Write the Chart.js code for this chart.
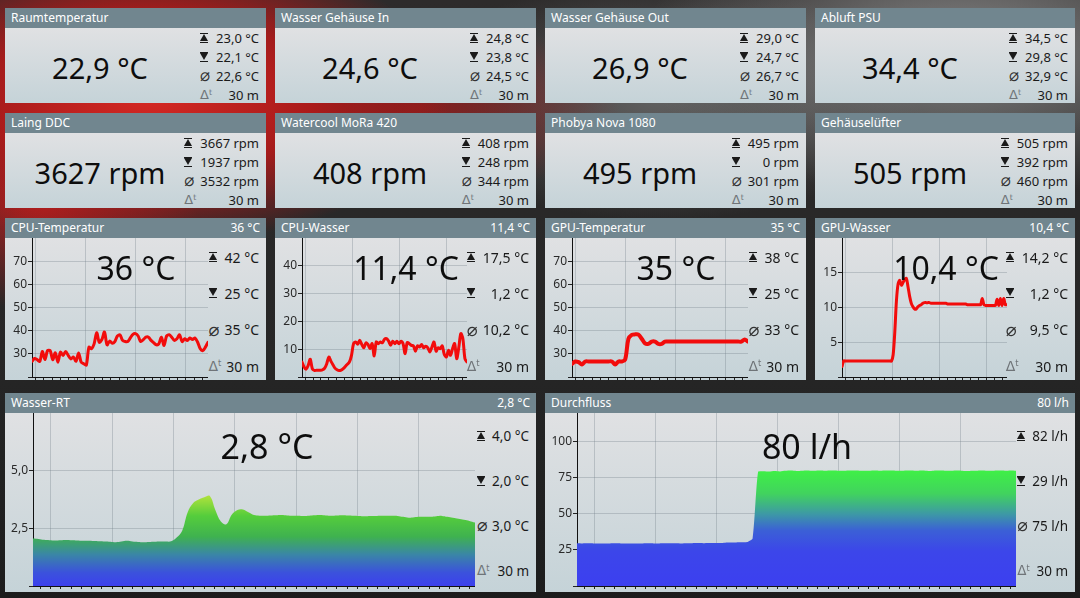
<!DOCTYPE html>
<html>
<head>
<meta charset="utf-8">
<script src="https://cdn.jsdelivr.net/npm/chart.js@4.4.1/dist/chart.umd.min.js"></script>
<style>
  html, body { margin: 0; padding: 0; }
  body {
    width: 1080px; height: 598px; overflow: hidden; position: relative;
    font-family: "Noto Sans", "DejaVu Sans", sans-serif;
    background:
      radial-gradient(ellipse 300px 150px at 150px 95px, rgba(215,40,35,1) 0%, rgba(185,25,25,0.85) 55%, rgba(120,15,15,0) 100%),
      radial-gradient(ellipse 160px 110px at 40px 200px, rgba(190,30,30,0.9) 0%, rgba(150,20,20,0) 100%),
      radial-gradient(ellipse 200px 90px at 420px 108px, rgba(160,25,25,0.8) 0%, rgba(150,20,20,0) 100%),
      radial-gradient(ellipse 320px 150px at 960px 50px, rgba(150,150,150,0.85) 0%, rgba(120,120,120,0) 100%),
      radial-gradient(ellipse 260px 120px at 660px 100px, rgba(115,115,115,0.75) 0%, rgba(110,110,110,0) 100%),
      linear-gradient(#2d2b2b, #262626 60%, #1c1c1c);
  }
  .panel { position: absolute; }
  .head {
    position: absolute; left: 0; right: 0; top: 0; height: 20px;
    background: #71868f; color: #fff; font-size: 12px; line-height: 20px;
    padding: 0 6px 0 6px; white-space: nowrap;
  }
  .head span { float: right; }
  .body {
    position: absolute; left: 0; right: 0; top: 20px; bottom: 0;
    background: linear-gradient(#e0e1e3, #c5d3d8);
  }
  .body canvas { position: absolute; left: 0; top: 0; }
  .big { position: absolute; transform: translate(-50%, -50%); white-space: nowrap; color: #0d0d0d; line-height: 1; }
  .stats {
    position: absolute; right: 7px; display: grid; grid-template-columns: 13px auto;
    column-gap: 3px; color: #1a1a1a; white-space: nowrap;
  }
  .stats > div { display: flex; align-items: center; }
  .stats .t { justify-content: flex-end; }
  .mx, .mn {
    position: relative; display: inline-block; width: 8px; height: 10px; box-sizing: border-box;
    border-top: 1.5px solid #1a1a1a; border-bottom: 1.5px solid #1a1a1a;
  }
  .mx::after, .mn::after { content: ""; position: absolute; left: 0; top: 0; border-left: 4px solid transparent; border-right: 4px solid transparent; }
  .mx::after { border-bottom: 7px solid #1a1a1a; }
  .mn::after { border-top: 7px solid #1a1a1a; }
  .av { color: #333; font-family: "DejaVu Sans", sans-serif; font-size: 1.3em; line-height: 1; }
  .dt { color: #6f7478; font-family: "DejaVu Sans", sans-serif; font-size: 1em; line-height: 1; }
  .dt sup { font-size: 0.6em; vertical-align: 0.55em; }
</style>
</head>
<body>
<script>
// obere Kacheln
const tileTitles = ['Raumtemperatur', 'Wasser Gehäuse In', 'Wasser Gehäuse Out', 'Abluft PSU',
                    'Laing DDC', 'Watercool MoRa 420', 'Phobya Nova 1080', 'Gehäuselüfter'];
const tileValues = ['22,9 °C', '24,6 °C', '26,9 °C', '34,4 °C', '3627 rpm', '408 rpm', '495 rpm', '505 rpm'];
const tileMax = ['23,0 °C', '24,8 °C', '29,0 °C', '34,5 °C', '3667 rpm', '408 rpm', '495 rpm', '505 rpm'];
const tileMin = ['22,1 °C', '23,8 °C', '24,7 °C', '29,8 °C', '1937 rpm', '248 rpm', '0 rpm', '392 rpm'];
const tileAvg = ['22,6 °C', '24,5 °C', '26,7 °C', '32,9 °C', '3532 rpm', '344 rpm', '301 rpm', '460 rpm'];
const timeSpan = '30 m';

// Diagramme
const chartTitles = ['CPU-Temperatur', 'CPU-Wasser', 'GPU-Temperatur', 'GPU-Wasser', 'Wasser-RT', 'Durchfluss'];
const chartValues = ['36 °C', '11,4 °C', '35 °C', '10,4 °C', '2,8 °C', '80 l/h'];
const chartMax = ['42 °C', '17,5 °C', '38 °C', '14,2 °C', '4,0 °C', '82 l/h'];
const chartMin = ['25 °C', '1,2 °C', '25 °C', '1,2 °C', '2,0 °C', '29 l/h'];
const chartAvg = ['35 °C', '10,2 °C', '33 °C', '9,5 °C', '3,0 °C', '75 l/h'];

const cpuTemp = [26.8,28,27.5,26.7,31,27.5,31.4,31.4,27.5,30.4,26.4,30.7,29.3,31,29.3,27.8,28.6,26.8,30.4,26.4,
  25.7,25.2,32.9,32.2,34.3,39.1,35,36.2,39.4,33.9,35.5,34.6,35.3,37.7,38.2,35.8,35.3,35.3,36.9,38.4,
  38.7,37.7,35.3,36.1,37.2,37.2,35.8,34.8,33.9,34.3,37.2,33.6,37.7,38.2,37.2,35.8,36.5,38.2,35.3,36.5,
  35.8,36.8,36.2,36.8,35,32.2,31.4,32.9,35];
const cpuWater = [5.4,3.6,2.8,4.2,6.4,3.0,2.4,2.4,2.4,2.4,2.6,3.2,4.8,7.2,5.7,4.4,3.2,2.6,2.3,2.5,
  3.0,3.8,4.6,5.4,7.8,12,12.6,11.8,13.2,11.7,10.5,12.3,11.7,10.2,12,7.6,12.6,12,12.6,12.3,
  13.6,13.8,12.9,11.4,12.9,12,12.9,12,12.9,12,8.4,12.4,12,11.4,11.2,9.3,11.2,10.8,11.7,10.5,
  11.1,10.5,9,10.8,12.6,9.3,10.5,10.2,11.2,8.1,7.2,9.6,7.8,10.2,12,6.6,10.5,15.6,13.8,6.6,5.4];
const gpuTemp = [25.7,26.7,26.4,25.4,26.7,26.7,26.7,26.7,26.7,26.7,26.7,26.7,26.7,25.4,26.7,26.7,27.5,36.5,38.2,38.4,
  38.3,36.5,34.5,34.3,35.3,35.3,34.3,34.3,35.3,35.3,35.3,35.3,35.3,35.3,35.3,35.3,35.3,35.3,35.3,35.3,
  35.3,35.3,35.3,35.3,35.3,35.3,35.3,35.3,35.3,35.3,35.3,35.3,36.2,35.3];
const gpuWater = [1.5,2.3,
  2.3,2.3,2.3,2.3,2.3,2.3,2.3,2.3,2.3,2.3,
  2.3,2.3,2.3,2.3,2.3,2.3,2.3,2.3,2.3,2.3,
  2.3,2.3,2.3,2.3,2.3,2.3,2.3,2.3,2.3,
  3.2,6.5,11,13.4,13.9,13.2,13.6,14.0,14.2,13.0,11.6,10.6,10.1,9.8,9.8,10.1,10.3,10.4,10.6,
  10.7,10.7,10.7,10.7,
  10.6,10.6,10.6,10.6,10.6,10.6,10.6,10.6,10.6,10.6,
  10.5,10.5,10.5,10.5,10.5,10.5,10.5,10.5,10.5,10.5,10.5,10.5,
  10.4,10.4,10.4,10.4,10.4,10.4,10.4,10.4,
  10.4,11.3,10.4,10.3,10.3,10.3,10.3,10.3,10.3,10.3,11.2,10.3,11.3,10.3,11.3,10.4,10.4];
const waterRT = [2.06,2.04,2.0,1.98,1.97,1.98,1.99,1.98,1.97,1.96,1.96,1.95,1.94,1.93,1.92,1.9,1.93,1.96,1.93,1.91,
  1.9,1.91,1.92,1.93,1.93,1.94,2.1,2.4,3.2,3.6,3.75,3.85,3.9,3.3,2.8,2.68,3.1,3.3,3.32,3.2,
  3.08,3.05,3.05,3.06,3.07,3.08,3.06,3.05,3.05,3.04,3.05,3.07,3.08,3.06,3.05,3.06,3.07,3.06,3.05,3.04,
  3.02,3.03,3.04,3.05,3.05,3.05,3.04,3.0,2.96,2.98,3.0,3.0,3.0,3.02,3.04,3.0,2.96,2.92,2.87,2.82,2.75];
const flow = [29.6,29.5,29.6,29.5,29.4,29.5,29.5,29.6,29.5,29.4,29.5,29.4,29.5,29.6,29.5,29.5,29.6,29.7,29.6,29.5,
  29.6,29.7,29.8,29.7,29.8,29.9,29.8,30.0,30.1,30.2,30.3,30.5,33,79.2,79.6,79.4,79.8,79.5,79.9,80.1,
  79.8,80.0,80.2,79.9,80.1,80.0,80.2,80.1,79.9,80.0,80.1,80.2,80.0,79.9,80.1,80.0,80.2,80.1,80.0,79.9,
  80.1,80.2,80.0,80.1,79.8,80.0,80.1,80.0,79.9,80.1,80.0,79.7,79.9,80.0,80.1,79.9,80.0,80.1,80.0,80.2,80.0];

const cpuTempTicks = [20, 30, 40, 50, 60, 70];
const cpuWaterTicks = [0, 10, 20, 30, 40];
const gpuTempTicks = [20, 30, 40, 50, 60, 70];
const gpuWaterTicks = [0, 5, 10, 15];
const rtTicks = [0, 2.5, 5];
const flowTicks = [0, 25, 50, 75, 100];
const axisMax = [80, 50, 80, 20, 7.5, 120];

const gridCol = 'rgba(105,120,130,0.3)';

function makePanel(x, y, w, h, title, value) {
  const p = document.createElement('div');
  p.className = 'panel';
  Object.assign(p.style, { left: x + 'px', top: y + 'px', width: w + 'px', height: h + 'px' });
  p.innerHTML = '<div class="head">' + title + (value ? '<span>' + value + '</span>' : '') + '</div><div class="body"></div>';
  document.body.appendChild(p);
  return p.querySelector('.body');
}

function addBig(body, text, cx, cy, size) {
  const d = document.createElement('div');
  d.className = 'big';
  Object.assign(d.style, { left: cx + 'px', top: cy + 'px', fontSize: size + 'px' });
  d.textContent = text;
  body.appendChild(d);
}

function addStats(body, vals, top, rowH, size, iconW) {
  const icons = ['<span class="mx"></span>', '<span class="mn"></span>', '<span class="av">⌀</span>', '<span class="dt">Δ<sup>t</sup></span>'];
  const s = document.createElement('div');
  s.className = 'stats';
  Object.assign(s.style, { top: top + 'px', gridAutoRows: rowH + 'px', fontSize: size + 'px' });
  if (iconW) s.style.gridTemplateColumns = iconW + 'px auto';
  s.innerHTML = vals.map((v, i) => '<div>' + icons[i] + '</div><div class="t">' + v + '</div>').join('');
  body.appendChild(s);
}

// Kacheln
const colX = [5, 275, 545, 815];
const colW = [261, 261, 261, 260];
tileTitles.forEach((t, i) => {
  const b = makePanel(colX[i % 4], [8, 113][Math.floor(i / 4)], colW[i % 4], 95, t);
  addBig(b, tileValues[i], 95, 39, 29);
  addStats(b, [tileMax[i], tileMin[i], tileAvg[i], timeSpan], 0, 19, 13);
});

// x-Achse: Hilfslinien alle 6 Ticks
function gridTicks(scale, start, step) {
  const span = scale.max - scale.min, minor = step / 6, t = [];
  let f = start;
  while (f - minor >= 0) f -= minor;
  for (; f <= 1.0001; f += minor) {
    const k = Math.round((f - start) / minor);
    t.push({ value: scale.min + f * span, major: ((k % 6) + 6) % 6 === 0 });
  }
  return t;
}

function areaFill(stops, values) {
  return (c) => {
    const { ctx, chartArea, scales } = c.chart;
    if (!chartArea) return 'transparent';
    const top = scales.y.getPixelForValue(Math.max(...values));
    const g = ctx.createLinearGradient(0, top, 0, chartArea.bottom);
    stops.forEach(([o, col]) => g.addColorStop(o, col));
    return g;
  };
}

function fmt(v, dec) {
  return dec ? v.toFixed(dec).replace('.', ',') : String(v);
}

function drawChart(body, cfg) {
  const cv = document.createElement('canvas');
  cv.width = cfg.cw; cv.height = cfg.ch;
  cv.style.width = cfg.cw + 'px'; cv.style.height = cfg.ch + 'px';
  body.insertBefore(cv, body.firstChild);
  const values = cfg.data;
  const ds = {
    data: values.map((v, i) => ({ x: i, y: v })),
    pointRadius: 0, tension: cfg.tension, borderJoinStyle: 'round', borderCapStyle: 'round'
  };
  if (cfg.stops) {
    Object.assign(ds, { fill: 'origin', borderWidth: 0, borderColor: 'rgba(0,0,0,0)', backgroundColor: areaFill(cfg.stops, values) });
  } else {
    Object.assign(ds, { fill: false, borderColor: '#f20c0c', borderWidth: cfg.lw });
  }
  new Chart(cv, {
    type: 'line',
    data: { datasets: [ds] },
    options: {
      responsive: false, animation: false, devicePixelRatio: 1, events: [],
      layout: { padding: 0 },
      plugins: { legend: { display: false }, tooltip: { enabled: false } },
      scales: {
        x: {
          type: 'linear', min: 0, max: values.length - 1,
          afterBuildTicks: s => { s.ticks = gridTicks(s, cfg.gStart, cfg.gStep); },
          afterFit: s => { s.height = 3; s.paddingLeft = 0; s.paddingRight = 0; },
          ticks: { display: false, autoSkip: false },
          grid: { color: c => (c.tick && c.tick.major) ? gridCol : 'rgba(0,0,0,0)', tickColor: '#222', tickLength: 3 },
          border: { display: true, color: '#111', width: 1 }
        },
        y: {
          min: cfg.ticks[0], max: cfg.max,
          afterBuildTicks: s => { s.ticks = cfg.ticks.map(v => ({ value: v })); },
          afterFit: s => { s.width = cfg.yW; s.paddingTop = 0; s.paddingBottom = 0; },
          ticks: {
            callback: v => v === cfg.ticks[0] ? '' : fmt(v, cfg.dec),
            color: '#2a2a2a', font: { family: 'Noto Sans', size: 12 }, padding: 1
          },
          grid: { color: gridCol, tickColor: '#222', tickLength: 4 },
          border: { display: true, color: '#111', width: 1 }
        }
      }
    }
  });
}

const rtStops = [[0, '#aee23c'], [0.22, '#55cd3c'], [0.45, '#3fb24f'], [0.65, '#3a86a6'], [0.85, '#3b52dc'], [1, '#3c40ee']];
const flowStops = [[0, '#3ff046'], [0.2, '#41d35e'], [0.38, '#3d98a6'], [0.52, '#3b60d6'], [0.7, '#3c46ea'], [1, '#3c3ff0']];

const chartCfg = [
  { x: 5,   y: 218, w: 261, h: 162, yW: 27, cw: 203, ch: 142, data: cpuTemp,  ticks: cpuTempTicks,  dec: 0, lw: 3, tension: 0.3 },
  { x: 275, y: 218, w: 261, h: 162, yW: 27, cw: 192, ch: 142, data: cpuWater, ticks: cpuWaterTicks, dec: 0, lw: 3, tension: 0.3 },
  { x: 545, y: 218, w: 261, h: 162, yW: 27, cw: 203, ch: 142, data: gpuTemp,  ticks: gpuTempTicks,  dec: 0, lw: 4, tension: 0.35 },
  { x: 815, y: 218, w: 260, h: 162, yW: 27, cw: 192, ch: 142, data: gpuWater, ticks: gpuWaterTicks, dec: 0, lw: 3, tension: 0.3 },
  { x: 5,   y: 393, w: 531, h: 199, yW: 28, cw: 470, ch: 176, data: waterRT,  ticks: rtTicks,       dec: 1, tension: 0.4, stops: rtStops },
  { x: 545, y: 393, w: 530, h: 199, yW: 32, cw: 471, ch: 176, data: flow,     ticks: flowTicks,     dec: 0, tension: 0.2, stops: flowStops }
];

chartCfg.forEach((cfg, i) => {
  cfg.max = axisMax[i];
  const big = i >= 4;
  cfg.gStart = big ? 0.04 : 0.02;
  cfg.gStep = big ? 0.1388 : 0.285;
  const b = makePanel(cfg.x, cfg.y, cfg.w, cfg.h, chartTitles[i], chartValues[i]);
  drawChart(b, cfg);
  addBig(b, chartValues[i], big ? 262 : 131, big ? 33 : 30, big ? 34 : 32);
  const sv = [chartMax[i], chartMin[i], chartAvg[i], timeSpan];
  if (big) addStats(b, sv, 0.5, 45, 13.5, 12);
  else addStats(b, sv, 1, 36.3, 14);
});
</script>
</body>
</html>
